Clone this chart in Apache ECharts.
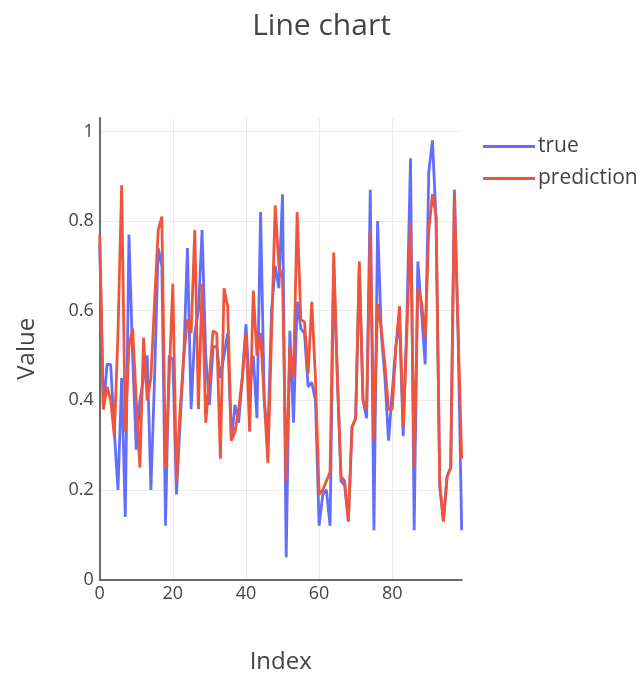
<!DOCTYPE html>
<html>
<head>
<meta charset="utf-8">
<script src="https://cdn.jsdelivr.net/npm/echarts@6/dist/echarts.min.js"></script>
<style>html,body{margin:0;padding:0;background:#fff;}#c{width:643px;height:675px;}</style>
</head>
<body>
<div id="c"></div>
<script>
const titleText = "Line chart";
const xName = "Index";
const yName = "Value";
const seriesNames = ["true", "prediction"];
const trueValues = [
  0.75, 0.38, 0.48, 0.48, 0.33, 0.20, 0.45, 0.14, 0.77, 0.50,
  0.29, 0.40, 0.45, 0.50, 0.20, 0.45, 0.74, 0.70, 0.12, 0.50,
  0.49, 0.19, 0.35, 0.50, 0.74, 0.38, 0.55, 0.60, 0.78, 0.50,
  0.39, 0.52, 0.52, 0.45, 0.50, 0.55, 0.31, 0.39, 0.35, 0.45,
  0.57, 0.42, 0.50, 0.36, 0.82, 0.40, 0.32, 0.60, 0.70, 0.65,
  0.86, 0.05, 0.555, 0.35, 0.62, 0.56, 0.55, 0.43, 0.44, 0.40,
  0.12, 0.19, 0.20, 0.12, 0.70, 0.45, 0.22, 0.21, 0.13, 0.34,
  0.36, 0.70, 0.40, 0.36, 0.87, 0.11, 0.80, 0.55, 0.45, 0.31,
  0.42, 0.52, 0.58, 0.32, 0.58, 0.94, 0.11, 0.71, 0.60, 0.48,
  0.91, 0.98, 0.80, 0.21, 0.13, 0.23, 0.25, 0.87, 0.55, 0.11
];
const predValues = [
  0.77, 0.38, 0.43, 0.40, 0.32, 0.55, 0.88, 0.33, 0.52, 0.56,
  0.40, 0.25, 0.54, 0.40, 0.45, 0.62, 0.78, 0.81, 0.25, 0.45,
  0.66, 0.22, 0.38, 0.50, 0.58, 0.55, 0.78, 0.38, 0.66, 0.35,
  0.45, 0.555, 0.55, 0.27, 0.65, 0.61, 0.31, 0.33, 0.38, 0.45,
  0.55, 0.33, 0.645, 0.50, 0.55, 0.40, 0.26, 0.55, 0.835, 0.70,
  0.67, 0.22, 0.52, 0.45, 0.82, 0.58, 0.575, 0.46, 0.62, 0.45,
  0.19, 0.20, 0.22, 0.24, 0.73, 0.45, 0.23, 0.22, 0.13, 0.34,
  0.36, 0.71, 0.40, 0.38, 0.78, 0.31, 0.615, 0.56, 0.48, 0.38,
  0.38, 0.52, 0.61, 0.34, 0.55, 0.80, 0.25, 0.65, 0.62, 0.54,
  0.78, 0.86, 0.81, 0.21, 0.13, 0.23, 0.25, 0.86, 0.56, 0.27
];
const xTicks = [0, 20, 40, 60, 80];
const yTicks = [0, 0.2, 0.4, 0.6, 0.8, 1];

const FONT = '"Open Sans", "Noto Sans", sans-serif';
const TXT = '#444';
const toPairs = arr => arr.map((v, i) => [i, v]);

const chart = echarts.init(document.getElementById('c'), null, {renderer: 'canvas'});
chart.setOption({
  animation: false,
  backgroundColor: '#fff',
  textStyle: {fontFamily: FONT, color: TXT},
  title: {
    text: titleText, left: 'center', top: 6,
    textStyle: {fontFamily: FONT, fontSize: 30, fontWeight: 'normal', color: TXT}
  },
  legend: {
    orient: 'vertical', left: 478, top: 131,
    icon: 'rect', itemWidth: 52, itemHeight: 3, itemGap: 11,
    textStyle: {fontFamily: FONT, fontSize: 21, color: TXT, padding: [0, 0, 0, -2]},
    data: seriesNames
  },
  grid: {left: 99.7, right: 181.3, top: 118, bottom: 95.4, containLabel: false, outerBoundsMode: 'none'},
  xAxis: {
    type: 'value', min: 0, max: trueValues.length - 1, interval: 20,
    name: xName, nameLocation: 'middle', nameGap: 71,
    nameTextStyle: {fontFamily: FONT, fontSize: 24, color: TXT},
    axisLine: {show: true, lineStyle: {color: '#6b6b6b', width: 2}},
    axisTick: {show: false},
    axisLabel: {
      fontFamily: FONT, fontSize: 18, color: TXT, margin: 5, showMaxLabel: false,
      formatter: v => xTicks.includes(v) ? String(v) : ''
    },
    splitLine: {show: true, showMinLine: false, showMaxLine: false, lineStyle: {color: '#ebebeb', width: 1}}
  },
  yAxis: {
    type: 'value', min: 0, max: 1.03, interval: 0.2,
    name: yName, nameLocation: 'middle', nameGap: 61,
    nameTextStyle: {fontFamily: FONT, fontSize: 24, color: TXT},
    axisLine: {show: true, lineStyle: {color: '#6b6b6b', width: 2}},
    axisTick: {show: false},
    axisLabel: {
      fontFamily: FONT, fontSize: 18, color: TXT, margin: 6, showMaxLabel: false,
      formatter: v => {
        const m = yTicks.find(t => Math.abs(t - v) < 1e-9);
        return m === undefined ? '' : String(m);
      }
    },
    splitLine: {show: true, showMinLine: false, showMaxLine: false, lineStyle: {color: '#ebebeb', width: 1}}
  },
  series: [
    {
      name: seriesNames[0], type: 'line', data: toPairs(trueValues),
      showSymbol: false, symbol: 'none',
      lineStyle: {color: '#636efa', width: 2.8}, itemStyle: {color: '#636efa'}
    },
    {
      name: seriesNames[1], type: 'line', data: toPairs(predValues),
      showSymbol: false, symbol: 'none',
      lineStyle: {color: '#EF553B', width: 2.8}, itemStyle: {color: '#EF553B'}
    }
  ]
});
</script>
</body>
</html>
